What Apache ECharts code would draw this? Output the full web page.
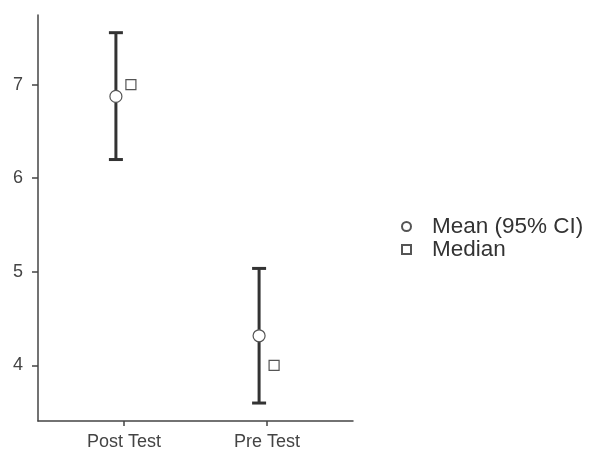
<!DOCTYPE html>
<html>
<head>
<meta charset="utf-8">
<script src="https://cdn.jsdelivr.net/npm/echarts@6/dist/echarts.min.js"></script>
<style>html,body{margin:0;padding:0;background:#fff}#c{width:592px;height:451px}</style>
</head>
<body>
<div id="c"></div>
<script>
const categories = ['Post Test', 'Pre Test'];
const means = [6.875, 4.316];
const ciLower = [6.20, 3.597];
const ciUpper = [7.556, 5.036];
const medians = [7, 4];
const yTicks = [4, 5, 6, 7];

const xPos = categories.map((c, i) => i + 1);
const font = 'Liberation Sans, Arial, sans-serif';

const chart = echarts.init(document.getElementById('c'), null, {renderer: 'canvas'});
chart.setOption({
  animation: false,
  backgroundColor: '#fff',
  grid: {left: 38, right: 239, top: 15, bottom: 30},
  xAxis: {
    type: 'value', min: 0.4, max: 2.6,
    splitLine: {show: false},
    axisLine: {show: true, lineStyle: {color: '#444', width: 1.5}},
    axisTick: {show: true, length: 5, lineStyle: {color: '#444', width: 1.5}, customValues: xPos},
    axisLabel: {customValues: xPos, formatter: v => categories[Math.round(v) - 1] || '',
      color: '#444', fontSize: 18, fontFamily: font, margin: 12}
  },
  yAxis: {
    type: 'value', min: 3.405, max: 7.745,
    splitLine: {show: false},
    axisLine: {show: true, lineStyle: {color: '#444', width: 1.5}},
    axisTick: {show: true, length: 6, lineStyle: {color: '#444', width: 1.5}, customValues: yTicks},
    axisLabel: {customValues: yTicks, color: '#444', fontSize: 18, fontFamily: font, margin: 15}
  },
  legend: {
    orient: 'vertical', left: 396, top: 210, itemGap: 0,
    itemWidth: 9, itemHeight: 9,
    textStyle: {fontSize: 22.5, color: '#333', fontFamily: font, padding: [0, 0, 0, 16]},
    data: [{name: 'Mean (95% CI)', icon: 'circle'}, {name: 'Median', icon: 'rect'}]
  },
  series: [
    {
      type: 'custom', name: 'ci', silent: true, z: 1,
      data: xPos.map((x, i) => [x, ciLower[i], ciUpper[i]]),
      renderItem: function (params, api) {
        const lo = api.coord([api.value(0), api.value(1)]);
        const hi = api.coord([api.value(0), api.value(2)]);
        const x = lo[0] - 8;
        const cap = 7;
        const st = {stroke: '#333', lineWidth: 3};
        return {type: 'group', children: [
          {type: 'line', shape: {x1: x, y1: lo[1], x2: x, y2: hi[1]}, style: st},
          {type: 'line', shape: {x1: x - cap, y1: lo[1], x2: x + cap, y2: lo[1]}, style: st},
          {type: 'line', shape: {x1: x - cap, y1: hi[1], x2: x + cap, y2: hi[1]}, style: st}
        ]};
      }
    },
    {
      type: 'scatter', name: 'Mean (95% CI)', z: 10,
      symbol: 'circle', symbolSize: 12, symbolOffset: [-8, 0],
      itemStyle: {color: '#ffffff', opacity: 1, borderColor: '#555', borderWidth: 1.2},
      data: xPos.map((x, i) => [x, means[i]])
    },
    {
      type: 'scatter', name: 'Median', z: 10,
      symbol: 'rect', symbolSize: 10, symbolOffset: [7, 0],
      itemStyle: {color: '#ffffff', opacity: 1, borderColor: '#555', borderWidth: 1.2},
      data: xPos.map((x, i) => [x, medians[i]])
    }
  ]
});
</script>
</body>
</html>
